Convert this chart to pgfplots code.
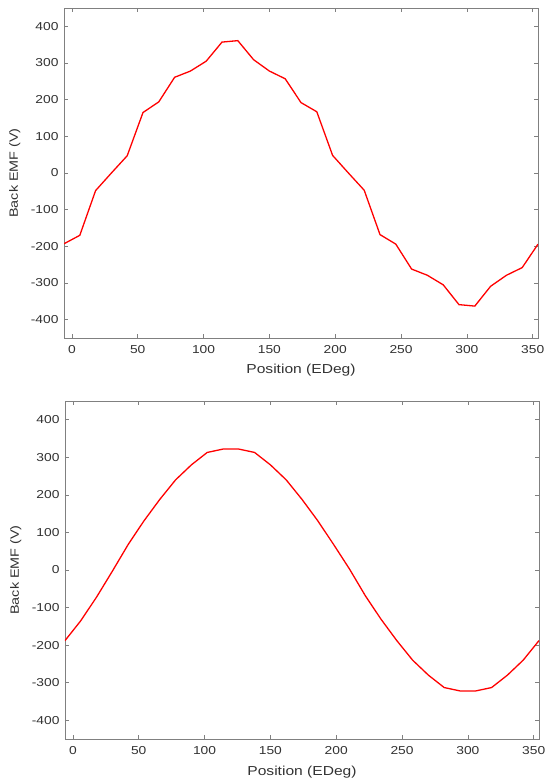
\documentclass[border=0pt]{standalone}
\usepackage{pgfplots}
\pgfplotsset{compat=1.18}
\usepackage{fontspec}
\setmainfont{Liberation Sans}[FakeStretch=1.2]
\definecolor{axgray}{RGB}{128,128,128}
\definecolor{txtgray}{RGB}{50,50,50}
\definecolor{linered}{RGB}{255,0,0}
\pgfplotsset{
  emfstyle/.style={
    scale only axis,
    xmin=-6, xmax=354,
    ymin=-450, ymax=450,
    xtick={0,50,...,350},
    ytick={-400,-300,...,400},
    tick align=inside,
    major tick length=4pt,
    axis line style={axgray, line width=0.8pt},
    every tick/.style={axgray, line width=0.6pt},
    tick label style={font=\fontsize{11.5}{13}\selectfont, text=txtgray},
    xticklabel style={yshift=-4pt},
    yticklabel style={xshift=-2pt},
    /pgf/number format/assume math mode=true,
    /pgf/number format/1000 sep={},
    xlabel={Position (EDeg)},
    ylabel={Back EMF (V)},
    every axis x label/.style={at={(axis description cs:0.5,0)}, anchor=base, yshift=-36pt,
      font=\fontsize{13}{15}\selectfont, text=txtgray},
    every axis y label/.style={at={(axis description cs:-0.104,0.5)}, anchor=center, rotate=90,
      font=\fontsize{12}{14}\selectfont, text=txtgray},
    clip=true,
  }
}
\begin{document}
\begin{tikzpicture}[x=1pt,y=1pt]
\path[use as bounding box] (0,0) rectangle (544,784);
\begin{axis}[emfstyle, at={(64pt,446pt)}, anchor=south west, width=474pt, height=330pt]
\addplot[linered, line width=1.3pt] coordinates {
(-6,-193) (6,-170) (18,-48) (30,0) (42,47) (54,165) (66,194) (78,261) (90,278)
(102,305) (114,357) (126,361) (138,309) (150,278) (162,257) (174,192) (186,167)
(198,48) (210,0) (222,-47) (234,-168) (246,-194) (258,-262) (270,-279) (282,-305)
(294,-359) (306,-363) (318,-309) (330,-279) (342,-258) (354,-194)
};
\end{axis}
\begin{axis}[emfstyle, at={(65pt,45pt)}, anchor=south west, width=474pt, height=338pt]
\addplot[linered, line width=1.3pt] coordinates {
(-6,-188) (6,-135) (18,-72) (30,-3) (42,68) (54,131) (66,188) (78,240) (90,280)
(102,313) (114,322) (126,322) (138,313) (150,280) (162,240) (174,188) (186,131)
(198,68) (210,3) (222,-68) (234,-131) (246,-188) (258,-240) (270,-280) (282,-313)
(294,-322) (306,-322) (318,-313) (330,-280) (342,-240) (354,-188)
};
\end{axis}
\end{tikzpicture}
\end{document}
